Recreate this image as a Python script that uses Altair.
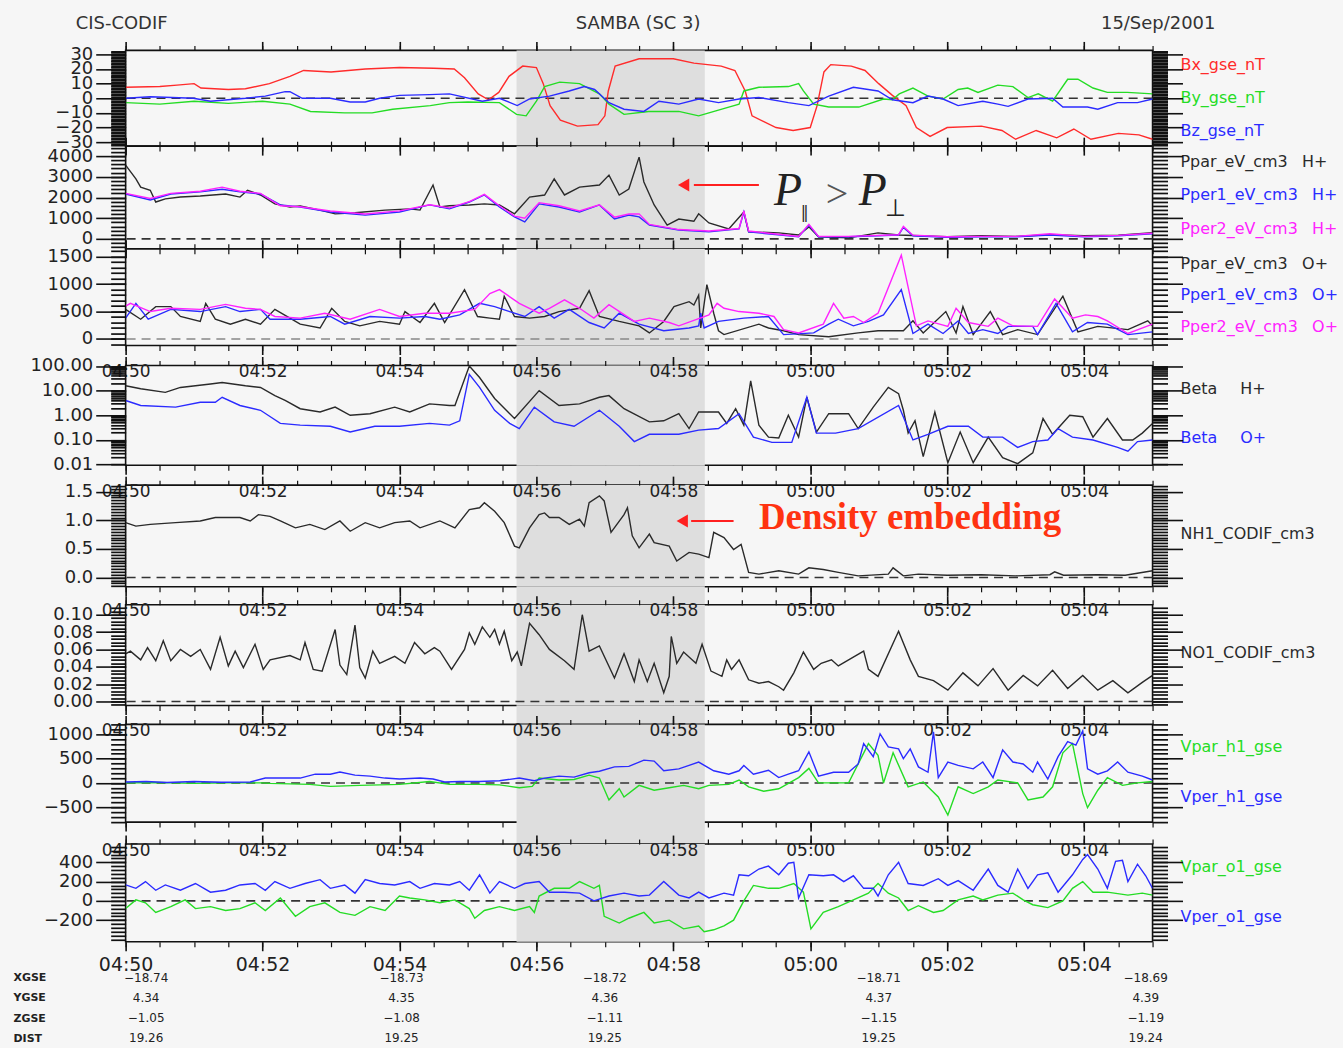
import altair as alt
import pandas as pd

# ------------------------------------------------------------------ data
# time axis: minutes after 04:50 UT, 15 Sep 2001
SHADE_START, SHADE_END = 5.71, 8.46

# Panel 1: magnetic field (nT)
BX = [(0,7.5),(0.5,8),(0.75,9),(1.0,10),(1.1,7),(1.5,6),(1.75,6.5),(2.1,10),(2.4,15),(2.6,19),(3.0,18),(3.5,20),(4.0,21),(4.5,20.5),(4.8,20),(4.95,14),(5.15,3),(5.3,-1),(5.45,4),(5.6,15),(5.8,22),(6.0,21),(6.1,10),(6.2,-5),(6.35,-15),(6.6,-19),(6.9,-18),(7.0,-12),(7.05,5),(7.15,22),(7.5,27),(8.0,27),(8.3,24),(8.7,22),(8.9,19),(9.05,5),(9.15,-12),(9.5,-20),(9.75,-22),(10.0,-20),(10.1,-5),(10.2,18),(10.3,23),(10.6,22),(10.8,19),(11.0,10),(11.2,2),(11.4,-5),(11.55,-20),(11.75,-26),(12.0,-20),(12.5,-19),(12.8,-22),(13.0,-28),(13.3,-22),(13.6,-27),(13.85,-21),(14.1,-28),(14.5,-24),(14.8,-25),(15,-28)]
BY = [(0,-3),(0.5,-4),(1,-2),(1.5,-3.5),(2,-2),(2.4,-4),(2.7,-9),(3.2,-10),(3.6,-10),(3.9,-7.5),(4.45,-5),(4.73,-3),(5.0,-2.5),(5.46,-3),(5.71,-11),(5.85,-12),(6.0,-2),(6.12,8),(6.34,11),(6.63,10),(6.92,3),(7.06,-4),(7.28,-11),(7.64,-9),(8.08,-9),(8.37,-12),(8.52,-10),(8.81,-6),(8.96,-4),(9.03,5),(9.25,7.5),(9.68,8),(9.83,10),(9.9,5),(10.05,-4),(10.27,-6),(10.71,-6),(11.07,-0.5),(11.2,-1),(11.3,3),(11.5,7),(11.72,1.5),(11.94,-0.5),(12.16,6),(12.3,7),(12.45,4),(12.74,9),(12.96,8),(13.18,0.5),(13.33,3),(13.54,-2),(13.76,13),(13.91,13),(14.13,7),(14.34,4),(14.63,4),(15,3)]
BZ = [(0,0),(0.36,1),(0.99,0),(1.24,-2),(1.75,0),(2.04,1.5),(2.33,4.5),(2.4,4.5),(2.58,0),(2.99,0),(3.28,-2.5),(3.5,-2.5),(3.71,0),(4.0,2),(4.44,2.5),(4.73,3),(5.21,-2),(5.46,0),(5.72,-5),(5.9,-0.5),(6.19,1.5),(6.48,5),(6.7,8),(6.85,6),(7.06,-3),(7.28,-7.5),(7.57,-9),(7.79,-2),(8.08,-4),(8.37,-0.5),(8.66,-3),(8.96,-0.5),(9.25,0.5),(9.68,-3),(9.98,-5),(10.27,1.5),(10.63,7.5),(10.99,5),(11.2,-1),(11.5,-3),(11.72,1.5),(11.94,-0.5),(12.16,-5),(12.52,-2),(12.74,-4),(12.89,-5.5),(13.18,-0.5),(13.54,0),(13.69,-6),(14.05,-6),(14.2,-7.5),(14.49,-3),(14.78,-3),(15,-0.5)]

# Panel 2: H+ pressures (eV/cm3)
PPAR_H = [(0,3560),(0.15,2900),(0.22,2500),(0.36,2350),(0.44,1780),(0.58,1930),(0.80,2020),(1.09,2070),(1.46,2170),(1.67,2020),(1.78,2350),(1.97,2120),(2.18,1690),(2.40,1540),(2.55,1590),(2.84,1390),(3.06,1210),(3.35,1260),(3.79,1390),(4.15,1450),(4.30,1390),(4.49,2600),(4.59,1540),(4.73,1600),(5.02,1640),(5.24,1690),(5.46,1640),(5.68,1210),(5.90,2020),(6.12,2120),(6.26,2900),(6.41,2120),(6.63,2500),(6.92,2600),(7.06,3080),(7.21,2120),(7.35,2410),(7.50,3950),(7.57,2750),(7.72,1640),(7.91,670),(8.08,960),(8.30,850),(8.37,1210),(8.52,770),(8.81,480),(9.03,1300),(9.10,340),(9.54,290),(9.83,190),(9.98,580),(10.12,100),(10.56,50),(10.99,290),(11.29,190),(11.6,150),(12.0,100),(12.5,150),(13.0,120),(13.5,200),(14.0,150),(14.5,180),(15,300)]
PPER1_H = [(0,2170),(0.36,1880),(0.66,2170),(1.09,2270),(1.41,2400),(1.67,2270),(1.97,2170),(2.26,1640),(2.55,1540),(2.99,1300),(3.5,1150),(4.0,1300),(4.44,1640),(4.73,1450),(5.02,1780),(5.24,2120),(5.46,1540),(5.68,1060),(5.83,820),(6.04,1690),(6.33,1540),(6.63,1300),(6.92,1640),(7.14,960),(7.35,1150),(7.50,1060),(7.65,670),(8.08,430),(8.52,340),(8.96,480),(9.03,1300),(9.10,340),(9.83,100),(9.98,670),(10.12,100),(10.56,100),(11.29,190),(11.36,550),(11.5,150),(12.0,80),(12.5,100),(13.0,100),(13.5,180),(14.0,100),(14.5,150),(15,250)]
PPER2_H = [(0,2200),(0.36,1950),(0.66,2200),(1.09,2300),(1.41,2500),(1.67,2300),(1.97,2200),(2.26,1600),(2.55,1550),(2.99,1350),(3.5,1200),(4.0,1350),(4.44,1650),(4.73,1500),(5.02,1800),(5.24,2150),(5.46,1600),(5.68,1100),(5.83,1000),(6.04,1750),(6.33,1600),(6.63,1350),(6.92,1650),(7.14,1050),(7.35,1200),(7.50,1210),(7.65,700),(8.08,450),(8.52,380),(8.96,500),(9.03,1350),(9.10,380),(9.83,120),(9.98,700),(10.12,120),(10.56,120),(11.29,200),(11.36,600),(11.5,180),(12.0,100),(12.5,120),(13.0,120),(13.5,250),(14.0,120),(14.5,170),(15,270)]

# Panel 3: O+ pressures (eV/cm3)
PPAR_O = [(0,540),(0.22,360),(0.44,590),(0.66,590),(0.80,410),(1.09,320),(1.17,650),(1.31,360),(1.53,270),(1.75,360),(1.97,270),(2.18,540),(2.40,380),(2.55,270),(2.84,200),(3.01,560),(3.20,320),(3.42,240),(3.71,320),(4.00,270),(4.08,500),(4.30,300),(4.51,650),(4.66,300),(4.95,900),(5.14,410),(5.32,380),(5.46,360),(5.53,780),(5.68,410),(5.90,380),(6.12,410),(6.33,500),(6.63,560),(6.77,880),(6.92,410),(7.21,320),(7.50,240),(7.65,110),(7.86,320),(8.01,590),(8.23,680),(8.30,620),(8.37,800),(8.40,200),(8.49,990),(8.59,470),(8.66,150),(8.74,80),(9.25,270),(9.39,200),(9.61,150),(9.83,80),(10.27,40),(10.70,110),(10.99,150),(11.36,150),(11.50,330),(11.65,110),(11.98,500),(12.13,110),(12.23,590),(12.38,80),(12.63,500),(12.81,80),(13.03,170),(13.32,80),(13.69,780),(13.91,130),(14.20,230),(14.64,170),(14.93,330),(15,240)]
PPER1_O = [(0,380),(0.15,650),(0.33,360),(0.66,540),(1.09,500),(1.46,590),(1.67,500),(1.97,540),(2.11,360),(2.55,360),(2.99,410),(3.20,270),(3.57,410),(4.00,380),(4.37,410),(4.59,360),(4.88,440),(5.17,650),(5.39,590),(5.61,500),(5.83,410),(6.04,590),(6.26,380),(6.48,540),(6.77,300),(6.99,200),(7.21,470),(7.50,270),(7.86,150),(8.23,200),(8.37,240),(8.40,470),(8.45,200),(8.66,320),(9.03,380),(9.39,410),(9.61,80),(10.05,110),(10.27,270),(10.41,360),(10.63,240),(10.85,320),(11.07,440),(11.33,900),(11.50,100),(11.72,270),(11.94,100),(12.16,330),(12.31,100),(12.52,170),(12.74,100),(12.89,230),(13.25,230),(13.32,80),(13.59,650),(13.83,130),(14.05,300),(14.34,270),(14.64,80),(15,130)]
PPER2_O = [(0,600),(0.07,650),(0.36,500),(0.66,560),(1.09,540),(1.46,630),(1.75,560),(1.97,540),(2.18,410),(2.55,380),(2.91,470),(3.28,360),(3.71,540),(4.00,410),(4.37,470),(4.73,470),(5.10,540),(5.32,830),(5.46,900),(5.75,650),(6.04,470),(6.19,560),(6.41,715),(6.63,560),(6.84,380),(7.06,625),(7.43,320),(7.65,380),(7.94,300),(8.08,240),(8.52,440),(8.64,650),(8.74,560),(8.96,500),(9.25,470),(9.47,410),(9.61,170),(9.83,110),(10.19,270),(10.34,650),(10.49,380),(10.63,410),(10.78,300),(10.99,470),(11.33,1530),(11.55,240),(11.72,330),(12.01,230),(12.13,560),(12.31,300),(12.60,230),(12.74,380),(12.96,240),(13.32,230),(13.57,730),(13.83,380),(14.02,440),(14.20,410),(14.34,330),(14.64,100),(15,270)]

# Panel 4: plasma beta
BETA_H = [(0,15.8),(0.22,12),(0.58,8.5),(0.80,13.5),(1.24,18.6),(1.41,21.5),(1.75,15.8),(1.97,13.5),(2.18,6.3),(2.33,4),(2.55,1.85),(2.84,1.36),(3.06,2.15),(3.28,1.0),(3.57,1.16),(3.93,2.15),(4.15,1.36),(4.44,2.9),(4.73,2.5),(4.81,2.5),(5.02,100),(5.17,34),(5.39,4.8),(5.68,0.74),(6.04,10),(6.33,2.5),(6.63,2.9),(6.92,5.4),(7.06,6.3),(7.28,1.85),(7.65,0.54),(7.86,0.6),(8.08,1.16),(8.23,0.29),(8.37,1.36),(8.66,1.36),(8.78,0.47),(8.91,1.85),(9.03,0.4),(9.13,25),(9.25,0.4),(9.39,0.13),(9.54,0.12),(9.68,1.0),(9.83,0.13),(9.95,5.4),(10.09,0.21),(10.27,1.16),(10.56,1.16),(10.70,0.29),(10.92,2.15),(11.14,13.5),(11.29,7.6),(11.36,1.6),(11.43,0.19),(11.53,0.6),(11.65,0.021),(11.82,1.36),(12.01,0.012),(12.19,0.21),(12.38,0.012),(12.60,0.13),(12.81,0.019),(13.03,0.011),(13.25,0.03),(13.40,0.74),(13.54,0.17),(13.79,1.0),(13.98,0.88),(14.13,0.13),(14.34,0.74),(14.56,0.1),(14.71,0.1),(14.85,0.19),(15,0.47)]
BETA_O = [(0,4),(0.22,2.5),(0.73,2.15),(1.09,3.4),(1.31,3.4),(1.41,5.4),(1.67,2.5),(1.97,1.6),(2.26,0.47),(2.55,0.4),(2.99,0.36),(3.28,0.21),(3.64,0.36),(4.00,0.36),(4.44,0.47),(4.73,0.4),(4.88,0.6),(5.02,46),(5.17,13.5),(5.39,1.6),(5.61,0.47),(5.75,0.29),(5.97,2.15),(6.26,0.54),(6.55,0.36),(6.92,1.6),(7.21,0.36),(7.43,0.086),(7.65,0.17),(8.08,0.17),(8.37,0.25),(8.66,0.29),(8.96,1.16),(9.17,0.13),(9.44,0.08),(9.73,0.08),(9.95,5.4),(10.09,0.19),(10.37,0.19),(10.70,0.29),(11.29,2.5),(11.5,0.1),(11.72,0.17),(12.01,0.36),(12.31,0.36),(12.52,0.13),(12.81,0.13),(13.03,0.05),(13.25,0.086),(13.47,0.1),(13.62,0.29),(13.83,0.13),(14.13,0.1),(14.49,0.05),(14.64,0.035),(14.78,0.086),(15,0.1)]

# Panel 5: H+ density (cm-3)
NH1 = [(0,0.96),(0.15,0.9),(0.36,0.93),(0.73,0.96),(1.09,0.99),(1.31,1.05),(1.67,1.05),(1.82,0.99),(1.94,1.1),(2.11,1.07),(2.26,0.99),(2.48,0.87),(2.69,0.93),(2.91,0.84),(3.13,0.99),(3.28,0.81),(3.50,0.96),(3.71,0.87),(3.93,0.96),(4.15,0.99),(4.30,0.87),(4.59,0.99),(4.81,0.87),(5.02,1.19),(5.17,1.22),(5.24,1.31),(5.39,1.16),(5.53,0.96),(5.68,0.55),(5.75,0.52),(5.90,0.87),(6.04,1.1),(6.12,1.13),(6.19,1.05),(6.33,1.05),(6.48,0.93),(6.63,1.02),(6.70,0.9),(6.77,1.31),(6.92,1.43),(6.99,1.34),(7.09,0.79),(7.28,1.1),(7.33,1.22),(7.40,0.73),(7.50,0.52),(7.65,0.76),(7.72,0.61),(7.94,0.55),(8.05,0.29),(8.23,0.44),(8.37,0.41),(8.52,0.35),(8.59,0.79),(8.74,0.70),(8.88,0.49),(8.99,0.58),(9.10,0.09),(9.25,0.06),(9.54,0.12),(9.83,0.06),(9.98,0.17),(10.19,0.14),(10.41,0.09),(10.70,0.03),(11.14,0.06),(11.21,0.17),(11.36,0.03),(11.58,0.06),(12.0,0.04),(12.5,0.05),(13.0,0.03),(13.5,0.05),(13.57,0.1),(13.7,0.04),(14.2,0.05),(14.6,0.04),(15,0.12)]

# Panel 6: O+ density (cm-3)
NO1 = [(0,0.055),(0.07,0.058),(0.22,0.048),(0.32,0.062),(0.44,0.047),(0.55,0.07),(0.66,0.047),(0.80,0.060),(0.95,0.052),(1.09,0.060),(1.24,0.037),(1.38,0.074),(1.50,0.041),(1.60,0.058),(1.72,0.039),(1.89,0.066),(2.01,0.037),(2.11,0.048),(2.40,0.053),(2.55,0.048),(2.62,0.068),(2.74,0.037),(2.87,0.035),(3.06,0.083),(3.13,0.042),(3.23,0.031),(3.35,0.088),(3.42,0.039),(3.50,0.027),(3.61,0.058),(3.71,0.044),(3.93,0.052),(4.08,0.044),(4.22,0.068),(4.37,0.055),(4.51,0.062),(4.59,0.058),(4.76,0.037),(4.95,0.060),(5.02,0.079),(5.10,0.066),(5.21,0.086),(5.32,0.074),(5.39,0.083),(5.46,0.066),(5.53,0.081),(5.64,0.047),(5.72,0.057),(5.78,0.041),(5.90,0.090),(6.04,0.077),(6.19,0.060),(6.41,0.047),(6.55,0.037),(6.67,0.100),(6.77,0.058),(6.92,0.064),(7.14,0.027),(7.28,0.055),(7.43,0.023),(7.50,0.048),(7.62,0.023),(7.72,0.044),(7.86,0.010),(7.94,0.029),(7.97,0.075),(8.05,0.044),(8.15,0.057),(8.33,0.044),(8.42,0.066),(8.55,0.035),(8.71,0.029),(8.78,0.048),(8.85,0.037),(8.96,0.048),(9.10,0.025),(9.25,0.021),(9.39,0.023),(9.54,0.017),(9.61,0.013),(9.76,0.033),(9.90,0.057),(10.05,0.037),(10.16,0.044),(10.31,0.048),(10.41,0.041),(10.56,0.048),(10.78,0.058),(10.85,0.037),(10.99,0.029),(11.29,0.081),(11.46,0.048),(11.58,0.029),(11.80,0.024),(12.01,0.013),(12.23,0.033),(12.45,0.018),(12.67,0.038),(12.89,0.013),(13.11,0.030),(13.32,0.018),(13.54,0.036),(13.76,0.015),(13.98,0.030),(14.20,0.013),(14.42,0.024),(14.64,0.010),(14.85,0.022),(15,0.030)]

# Panel 7: H+ velocities (km/s)
VPAR_H1 = [(0,0),(0.5,10),(1.0,-10),(1.5,5),(2.0,0),(2.11,-10),(2.69,-30),(2.99,-70),(3.42,-50),(4.00,-30),(4.44,30),(4.73,-30),(5.17,-30),(5.46,-40),(5.75,-100),(5.94,-70),(6.04,100),(6.33,60),(6.55,70),(6.77,160),(6.92,100),(7.06,-350),(7.21,-120),(7.28,-290),(7.50,-50),(7.72,-150),(7.94,-100),(8.15,-50),(8.37,-120),(8.52,-50),(8.81,-30),(8.96,60),(9.10,-80),(9.32,-170),(9.54,-120),(9.83,110),(9.98,300),(10.12,0),(10.56,0),(10.85,810),(10.99,570),(11.07,0),(11.21,620),(11.43,-80),(11.65,20),(11.87,-290),(12.01,-660),(12.16,-80),(12.38,-220),(12.60,-80),(12.74,60),(13.03,0),(13.18,-350),(13.40,-290),(13.54,-80),(13.69,620),(13.83,810),(13.98,-220),(14.05,-510),(14.20,-150),(14.34,110),(14.56,-50),(14.78,0),(15,30)]
VPER_H1 = [(0,20),(0.3,30),(0.6,10),(1.0,30),(1.4,15),(1.82,20),(2.04,100),(2.26,100),(2.55,100),(2.77,180),(2.99,180),(3.13,225),(3.35,160),(3.57,140),(3.79,100),(4.00,80),(4.30,100),(4.49,80),(4.66,20),(4.88,30),(5.17,30),(5.46,45),(5.75,100),(5.97,45),(6.12,100),(6.33,140),(6.55,120),(6.77,210),(6.92,240),(7.14,330),(7.35,340),(7.57,470),(7.72,450),(7.86,250),(8.08,290),(8.23,360),(8.37,430),(8.59,250),(8.81,180),(8.96,250),(9.03,360),(9.17,180),(9.39,260),(9.54,110),(9.68,180),(9.83,250),(9.98,640),(10.12,140),(10.34,220),(10.56,220),(10.70,390),(10.78,810),(10.92,540),(11.02,1010),(11.14,740),(11.29,700),(11.36,500),(11.46,700),(11.58,330),(11.72,220),(11.80,1050),(11.87,110),(12.01,430),(12.16,360),(12.38,290),(12.52,430),(12.67,110),(12.81,680),(12.96,430),(13.11,390),(13.25,220),(13.32,430),(13.47,80),(13.62,540),(13.76,850),(13.88,780),(13.98,1070),(14.05,290),(14.20,180),(14.34,250),(14.49,430),(14.64,220),(14.85,140),(15,60)]

# Panel 8: O+ velocities (km/s)
VPAR_O1 = [(0,-80),(0.15,10),(0.29,-20),(0.44,-120),(0.66,-60),(0.87,10),(1.02,-80),(1.24,-60),(1.46,-100),(1.67,-80),(1.89,-20),(2.04,-100),(2.26,30),(2.48,-160),(2.69,-60),(2.91,-20),(3.13,-120),(3.35,-150),(3.57,-60),(3.79,-100),(4.00,50),(4.15,30),(4.37,10),(4.59,-20),(4.81,10),(5.02,-80),(5.10,-180),(5.24,-100),(5.46,-60),(5.68,-100),(5.90,-60),(5.97,-120),(6.04,50),(6.26,130),(6.48,130),(6.63,200),(6.84,130),(6.92,160),(6.99,-160),(7.21,-230),(7.35,-180),(7.57,-120),(7.72,-230),(7.94,-200),(8.15,-290),(8.37,-260),(8.45,-320),(8.59,-300),(8.74,-260),(8.88,-200),(9.03,0),(9.17,160),(9.39,130),(9.54,130),(9.76,180),(9.90,90),(10.01,-290),(10.19,-120),(10.41,-60),(10.63,10),(10.85,80),(10.99,180),(11.14,80),(11.29,30),(11.43,-100),(11.58,-50),(11.80,-120),(11.94,-100),(12.16,10),(12.38,50),(12.52,10),(12.74,60),(12.96,80),(13.11,10),(13.25,-40),(13.47,-70),(13.69,0),(13.83,130),(13.98,200),(14.13,90),(14.34,90),(14.64,60),(14.85,80),(15,60)]
VPER_O1 = [(0,165),(0.15,130),(0.29,200),(0.44,110),(0.58,165),(0.80,110),(1.02,180),(1.24,90),(1.46,110),(1.67,165),(1.89,180),(2.04,110),(2.18,200),(2.40,130),(2.62,180),(2.84,220),(2.99,130),(3.20,165),(3.35,80),(3.50,220),(3.71,180),(3.93,165),(4.15,200),(4.30,130),(4.51,180),(4.73,165),(4.88,200),(5.02,110),(5.17,270),(5.32,80),(5.46,200),(5.68,130),(5.83,180),(6.04,200),(6.19,90),(6.41,90),(6.63,80),(6.84,0),(7.06,50),(7.28,80),(7.50,50),(7.65,60),(7.86,200),(8.08,60),(8.23,30),(8.37,90),(8.52,30),(8.74,80),(8.88,60),(8.96,270),(9.10,260),(9.25,330),(9.39,360),(9.54,270),(9.68,390),(9.76,400),(9.83,30),(9.98,270),(10.19,260),(10.34,270),(10.49,200),(10.63,260),(10.78,130),(10.92,130),(10.99,50),(11.14,270),(11.29,400),(11.43,180),(11.65,160),(11.87,230),(12.01,160),(12.16,210),(12.38,110),(12.60,330),(12.74,160),(12.89,90),(13.03,330),(13.18,130),(13.32,270),(13.47,290),(13.62,90),(13.83,270),(13.98,430),(14.05,480),(14.20,330),(14.34,130),(14.46,410),(14.56,420),(14.64,200),(14.78,380),(14.90,260),(15,130)]

# orbit table under the plot
TABLE_ROWS = ["XGSE", "YGSE", "ZGSE", "DIST"]
TABLE_T = [0.3, 4.03, 7.0, 11.0, 14.9]
XGSE = ["\u221218.74", "\u221218.73", "\u221218.72", "\u221218.71", "\u221218.69"]
YGSE = ["4.34", "4.35", "4.36", "4.37", "4.39"]
ZGSE = ["\u22121.05", "\u22121.08", "\u22121.11", "\u22121.15", "\u22121.19"]
DIST = ["19.26", "19.25", "19.25", "19.25", "19.24"]

# annotation anchors (time in minutes, value in panel units)
ANN_P = (9.47, 1640)            # "P|| > P_perp" in panel 2
ARROW_P = (9.25, 8.30, 8.15, 2600)
ANN_D = (9.25, 0.85)            # "Density embedding" in panel 5
ARROW_D = (8.88, 8.26, 8.13, 0.99)

# ------------------------------------------------------------------ style
FONT = "DejaVu Sans"
SERIF = "Liberation Serif"
RED, GREEN, BLUE, MAG, BLK = "#ff2b2b", "#25dc25", "#2b2bff", "#ff22ff", "#2a2a2a"
BAND = "#dedede"
BG = "#f6f6f6"
W = 1030

XS = alt.Scale(domain=[0, 15], nice=False, zero=False)
TEXPR = "datum.value < 10 ? '04:' + (50 + datum.value) : '05:0' + (datum.value - 10)"


def frange(a, b, step):
    n = int(round((b - a) / step))
    return [round(a + i * step, 6) for i in range(n + 1)]


X_MAJOR = frange(0, 14, 2)
X_MINOR = frange(0, 15, 0.5)

AXC = dict(grid=False, domain=False, tickColor="#111", labelColor="#222", labelFont=FONT,
           labelOverlap=False, labelFlush=False, labelBound=False, zindex=3, title=None)

SHADE_DF = pd.DataFrame({"s": [SHADE_START], "e": [SHADE_END]})
ZERO_DF = pd.DataFrame({"z": [0]})


def make_axes(ymaj, ymin, yfmt, top_labels, bottom_labels, minor_w):
    xbM = alt.Axis(orient="bottom", values=X_MAJOR, tickSize=9, tickWidth=1.6, labels=bottom_labels,
                   labelExpr=TEXPR, labelFontSize=19, labelPadding=5, labelBaseline="top", **AXC)
    xbm = alt.Axis(orient="bottom", values=X_MINOR, tickSize=5, tickWidth=1.2, labels=False, **AXC)
    xtM = alt.Axis(orient="top", values=X_MAJOR, tickSize=9, tickWidth=1.6, labels=top_labels,
                   labelExpr=TEXPR, labelFontSize=17, labelPadding=-20, labelBaseline="alphabetic", **AXC)
    xtm = alt.Axis(orient="top", values=X_MINOR, tickSize=5, tickWidth=1.2, labels=False, **AXC)
    ylM = alt.Axis(orient="left", values=ymaj, tickSize=30, tickWidth=1.6, format=yfmt,
                   labelFontSize=18, labelPadding=3, **AXC)
    ylm = alt.Axis(orient="left", values=ymin, tickSize=15, tickWidth=minor_w, labels=False, **AXC)
    yrM = alt.Axis(orient="right", values=ymaj, tickSize=30, tickWidth=1.6, labels=False, **AXC)
    yrm = alt.Axis(orient="right", values=ymin, tickSize=15, tickWidth=minor_w, labels=False, **AXC)
    return [(xbM, ylM), (xbm, ylm), (xtM, yrM), (xtm, yrm)]


def band():
    return alt.Chart(SHADE_DF).mark_rect(color=BAND).encode(
        x=alt.X("s:Q", scale=XS, axis=None), x2="e:Q")


def rtext(text, v, color, ys, xoff):
    df = pd.DataFrame({"v": [v], "label": [text]})
    return alt.Chart(df).mark_text(align="left", baseline="middle", font=FONT, fontSize=16, color=color).encode(
        x=alt.value(W + xoff), y=alt.Y("v:Q", scale=ys, axis=None), text="label:N")


def panel(height, ys, ymaj, ymin, yfmt, series, labels, zero=True, zero_color="#333",
          top_labels=False, bottom_labels=False, extra=(), minor_w=1.7):
    layers = [band()]
    if zero:
        layers.append(alt.Chart(ZERO_DF).mark_rule(color=zero_color, strokeWidth=1.6, strokeDash=[9, 6]).encode(
            y=alt.Y("z:Q", scale=ys, axis=None)))
    frames = []
    for pairs, color in series:
        df = pd.DataFrame(pairs, columns=["t", "v"])
        frames.append(df)
        layers.append(alt.Chart(df).mark_line(color=color, strokeWidth=1.4, clip=True).encode(
            x=alt.X("t:Q", scale=XS, axis=None), y=alt.Y("v:Q", scale=ys, axis=None)))
    for xa, ya in make_axes(ymaj, ymin, yfmt, top_labels, bottom_labels, minor_w):
        layers.append(alt.Chart(frames[0]).mark_line(opacity=0).encode(
            x=alt.X("t:Q", scale=XS, axis=xa), y=alt.Y("v:Q", scale=ys, axis=ya)))
    for text, v, color, xoff in labels:
        layers.append(rtext(text, v, color, ys, xoff))
    layers.extend(extra)
    return alt.layer(*layers).resolve_axis(x="independent", y="independent").properties(width=W, height=height)


def spacer(h):
    return band().properties(width=W, height=h, view=alt.ViewBackground(stroke="transparent"))


def ann_text(anchor, ys, text, dx, dy, size, style, weight, color, font):
    df = pd.DataFrame({"t": [anchor[0]], "v": [anchor[1]], "label": [text]})
    return alt.Chart(df).mark_text(align="left", baseline="alphabetic", dx=dx, dy=dy, fontSize=size,
                                   fontStyle=style, fontWeight=weight, color=color, font=font).encode(
        x=alt.X("t:Q", scale=XS, axis=None), y=alt.Y("v:Q", scale=ys, axis=None), text="label:N")


def arrow(spec, ys):
    x1, x2, xh, v = spec
    df = pd.DataFrame({"a": [x1], "b": [x2], "h": [xh], "v": [v]})
    line = alt.Chart(df).mark_rule(color="#ff2020", strokeWidth=2).encode(
        x=alt.X("a:Q", scale=XS, axis=None), x2="b:Q", y=alt.Y("v:Q", scale=ys, axis=None))
    head = alt.Chart(df).mark_point(shape="triangle-left", filled=True, color="#ff2020", size=170, opacity=1).encode(
        x=alt.X("h:Q", scale=XS, axis=None), y=alt.Y("v:Q", scale=ys, axis=None))
    return [line, head]


def header(text, x, align):
    df = pd.DataFrame({"label": [text]})
    return alt.Chart(df).mark_text(align=align, baseline="top", font=FONT, fontSize=18, color="#333").encode(
        x=alt.value(x), y=alt.value(-35), text="label:N")


# ------------------------------------------------------------------ panels
ys1 = alt.Scale(domain=[-32.7, 32.7], nice=False, zero=False)
p1 = panel(96, ys1, frange(-30, 30, 10), frange(-32, 32, 1), "d",
           [(BX, RED), (BY, GREEN), (BZ, BLUE)],
           [("Bx_gse_nT", 23, RED, 28), ("By_gse_nT", 0, GREEN, 28), ("Bz_gse_nT", -22.5, BLUE, 28)],
           extra=[header("CIS-CODIF", -50, "left"), header("SAMBA (SC 3)", 514, "center"),
                  header("15/Sep/2001", 1093, "right")], minor_w=1.8)

ys2 = alt.Scale(domain=[-480, 4480], nice=False, zero=False)
p_ann = [ann_text(ANN_P, ys2, "P", 0, 0, 46, "italic", "normal", "#222", SERIF),
         ann_text(ANN_P, ys2, "\u2016", 27, 17, 26, "normal", "normal", "#222", SERIF),
         ann_text(ANN_P, ys2, ">", 52, 2, 40, "normal", "normal", "#555", SERIF),
         ann_text(ANN_P, ys2, "P", 85, 0, 46, "italic", "normal", "#222", SERIF),
         ann_text(ANN_P, ys2, "\u22a5", 111, 11, 24, "normal", "normal", "#222", SERIF)] + arrow(ARROW_P, ys2)
p2 = panel(103, ys2, frange(0, 4000, 1000), frange(-400, 4400, 200), "d",
           [(PPAR_H, BLK), (PPER1_H, BLUE), (PPER2_H, MAG)],
           [("Ppar_eV_cm3", 3710, BLK, 28), ("H+", 3710, BLK, 150),
            ("Pper1_eV_cm3", 2120, BLUE, 28), ("H+", 2120, BLUE, 160),
            ("Pper2_eV_cm3", 480, MAG, 28), ("H+", 480, MAG, 160)],
           extra=p_ann)

ys3 = alt.Scale(domain=[-120, 1645], nice=False, zero=False)
p3 = panel(97, ys3, frange(0, 1500, 500), frange(-100, 1600, 100), "d",
           [(PPAR_O, BLK), (PPER1_O, BLUE), (PPER2_O, MAG)],
           [("Ppar_eV_cm3", 1374, BLK, 28), ("O+", 1374, BLK, 150),
            ("Pper1_eV_cm3", 810, BLUE, 28), ("O+", 810, BLUE, 160),
            ("Pper2_eV_cm3", 212, MAG, 28), ("O+", 212, MAG, 160)],
           zero_color="#888")

ys4 = alt.Scale(type="log", domain=[0.0095, 105], nice=False)
log_minor = [round(d * k, 6) for d in [0.01, 0.1, 1, 10, 100] for k in range(1, 10) if 0.0095 <= d * k <= 105]
p4 = panel(100, ys4, [0.01, 0.1, 1, 10, 100], log_minor, ".2f",
           [(BETA_H, BLK), (BETA_O, BLUE)],
           [("Beta", 12, BLK, 28), ("H+", 12, BLK, 88), ("Beta", 0.12, BLUE, 28), ("O+", 0.12, BLUE, 88)],
           zero=False, top_labels=True)

ys5 = alt.Scale(domain=[-0.162, 1.617], nice=False, zero=False)
d_ann = [ann_text(ANN_D, ys5, "Density embedding", 0, 0, 37, "normal", "bold", "#ff3311", SERIF)] + arrow(ARROW_D, ys5)
p5 = panel(102, ys5, [0, 0.5, 1.0, 1.5], frange(-0.15, 1.6, 0.05), ".1f",
           [(NH1, BLK)], [("NH1_CODIF_cm3", 0.76, BLK, 28)], top_labels=True, extra=d_ann)

ys6 = alt.Scale(domain=[-0.0046, 0.1115], nice=False, zero=False)
p6 = panel(101, ys6, frange(0, 0.1, 0.02), frange(-0.004, 0.108, 0.004), ".2f",
           [(NO1, BLK)], [("NO1_CODIF_cm3", 0.056, BLK, 28)], top_labels=True)

ys7 = alt.Scale(domain=[-807, 1205], nice=False, zero=False)
p7 = panel(98, ys7, [-500, 0, 500, 1000], frange(-800, 1200, 100), "d",
           [(VPAR_H1, GREEN), (VPER_H1, BLUE)],
           [("Vpar_h1_gse", 733, GREEN, 28), ("Vper_h1_gse", -294, BLUE, 28)], top_labels=True)

ys8 = alt.Scale(domain=[-424, 589], nice=False, zero=False)
p8 = panel(98, ys8, [-200, 0, 200, 400], frange(-400, 560, 40), "d",
           [(VPAR_O1, GREEN), (VPER_O1, BLUE)],
           [("Vpar_o1_gse", 352, GREEN, 28), ("Vper_o1_gse", -165, BLUE, 28)],
           top_labels=True, bottom_labels=True)

# orbit table
rows = []
for name, vals in zip(TABLE_ROWS, [XGSE, YGSE, ZGSE, DIST]):
    for t, s in zip(TABLE_T, vals):
        rows.append({"row": name, "t": t, "label": s})
table = alt.Chart(pd.DataFrame(rows)).mark_text(font=FONT, fontSize=12, color="#222", baseline="middle").encode(
    x=alt.X("t:Q", scale=XS, axis=None),
    y=alt.Y("row:N", sort=TABLE_ROWS, scale=alt.Scale(range=[36, 97], padding=0),
            axis=alt.Axis(orient="left", ticks=False, tickSize=0, domain=False, labelAlign="left",
                          labelPadding=113, labelFontSize=11, labelFont=FONT, labelFontWeight="bold",
                          labelColor="#222", title=None)),
    text="label:N",
).properties(width=W, height=106, view=alt.ViewBackground(stroke="transparent"))

chart = alt.vconcat(p1, p2, p3, spacer(20), p4, spacer(20), p5, spacer(18), p6, spacer(19), p7, spacer(22), p8,
                    table, spacing=0, bounds="flush").configure(
    background=BG, padding={"left": 12, "top": 13, "right": 4, "bottom": 0}
).configure_view(stroke="#111", strokeWidth=1.6)

chart.save("out.html", embed_options={"renderer": "svg", "actions": False})
